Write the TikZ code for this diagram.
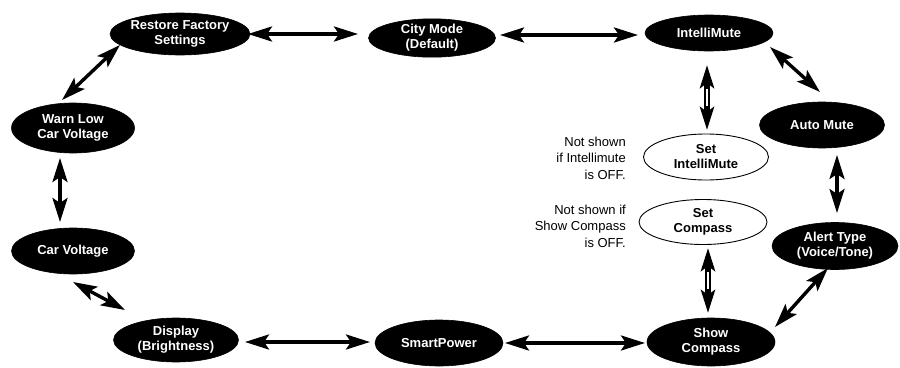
\documentclass[tikz,border=0pt]{standalone}
\usepackage{fontspec}
\setmainfont{Liberation Sans}
\usetikzlibrary{arrows.meta,shapes.geometric,calc}
\begin{document}
\begin{tikzpicture}[x=1pt,y=-1pt,
  blk/.style={ellipse, fill=black, draw=black, line width=0.6pt, text=white,
    font=\fontsize{13}{15}\selectfont\bfseries, align=center, inner sep=0pt},
  wht/.style={ellipse, fill=white, draw=black, line width=0.9pt, text=black,
    font=\fontsize{13}{15}\selectfont\bfseries, align=center, inner sep=0pt},
  note/.style={font=\fontsize{13}{16.3}\selectfont, align=right, inner sep=0pt, anchor=north east},
  arr/.style={line width=3.4pt, {Stealth[length=24pt,width=15pt,inset=5pt]}-{Stealth[length=24pt,width=15pt,inset=5pt]}},
  dbl/.style={line width=5.4pt, {Stealth[length=23pt,width=14pt,inset=5pt]}-{Stealth[length=23pt,width=14pt,inset=5pt]},
    postaction={draw=white, line width=2.4pt, -, shorten <=24pt, shorten >=24pt}},
]
\useasboundingbox (0,0) rectangle (900,367);

\node[blk, minimum width=126pt, minimum height=42pt] (rfs) at (180,34) {Restore Factory\\Settings};
\node[blk, minimum width=127pt, minimum height=38pt] (city) at (432,38) {City Mode\\(Default)};
\node[blk, minimum width=128pt, minimum height=36pt] (im) at (709,33) {IntelliMute};
\node[blk, minimum width=125pt, minimum height=46pt] (am) at (822,125) {Auto Mute};
\node[wht, minimum width=125pt, minimum height=46pt] (sim) at (706,157) {Set\\IntelliMute};
\node[wht, minimum width=128pt, minimum height=45pt] (scmp) at (703,222) {Set\\Compass};
\node[blk, minimum width=126pt, minimum height=47pt] (at) at (835,246) {Alert Type\\(Voice/Tone)};
\node[blk, minimum width=128pt, minimum height=48pt] (sc) at (711,342) {Show\\Compass};
\node[blk, minimum width=128pt, minimum height=46pt] (sp) at (439,343) {SmartPower};
\node[blk, minimum width=125pt, minimum height=44pt] (disp) at (176,340) {Display\\(Brightness)};
\node[blk, minimum width=123pt, minimum height=46pt] (cv) at (73,251) {Car Voltage};
\node[blk, minimum width=123pt, minimum height=50pt] (wl) at (73,128) {Warn Low\\Car Voltage};

\node[note] (n1) at (626,137) {Not shown\\if Intellimute\\is OFF.};
\node[note] (n2) at (626,205) {Not shown if\\Show Compass\\is OFF.};

\draw[arr] ([shift={(68,0)}]rfs.center) -- ([shift={(-74,-4)}]city.center);
\draw[arr] ([shift={(68,-3)}]city.center) -- ([shift={(-71,2)}]im.center);
\draw[arr] ([shift={(61,14)}]im.center) -- ([shift={(-2,-33)}]am.center);
\draw[dbl] ([shift={(-2,32)}]im.center) -- ([shift={(1,-27)}]sim.center);
\draw[arr] ([shift={(15,30)}]am.center) -- ([shift={(2,-33)}]at.center);
\draw[arr] ([shift={(-7,22)}]at.center) -- ([shift={(64,-15)}]sc.center);
\draw[dbl] ([shift={(5,26)}]scmp.center) -- ([shift={(-3,-29)}]sc.center);
\draw[arr] ([shift={(-66,1)}]sc.center) -- ([shift={(66,0)}]sp.center);
\draw[arr] ([shift={(-69,-1)}]sp.center) -- ([shift={(69,2)}]disp.center);
\draw[arr] ([shift={(-51,-30)}]disp.center) -- ([shift={(0,31)}]cv.center);
\draw[arr] ([shift={(-13,-29)}]cv.center) -- ([shift={(-13,30)}]wl.center);
\draw[arr] ([shift={(-11,-28)}]wl.center) -- ([shift={(-60,11)}]rfs.center);
\end{tikzpicture}
\end{document}
